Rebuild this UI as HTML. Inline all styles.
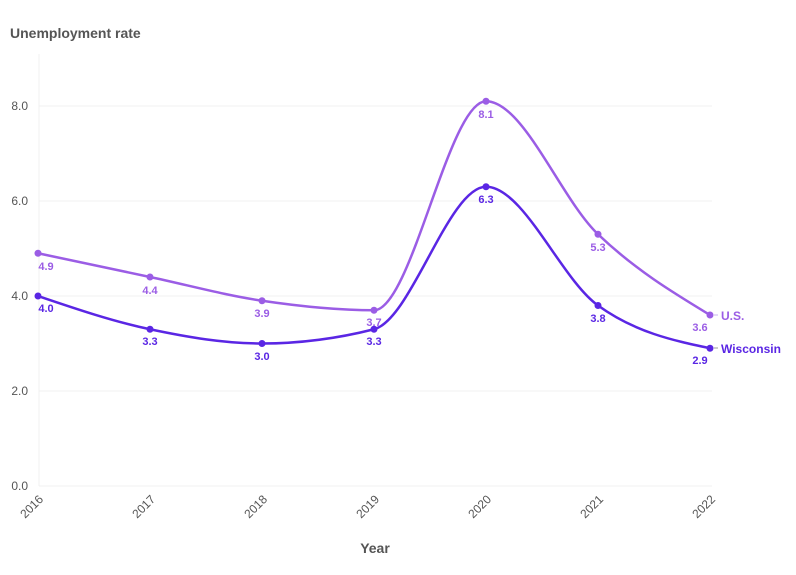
<!DOCTYPE html>
<html><head><meta charset="utf-8"><style>
html,body{margin:0;padding:0;background:#fff;}
svg{display:block;font-family:"Liberation Sans",sans-serif;}
</style></head><body>
<svg width="796" height="575" viewBox="0 0 796 575" xmlns="http://www.w3.org/2000/svg">
<text x="10" y="38" font-size="14" font-weight="bold" fill="#555">Unemployment rate</text>
<g stroke="#f0f0f0" stroke-width="1">
<line x1="39" y1="106" x2="712" y2="106"/>
<line x1="39" y1="201" x2="712" y2="201"/>
<line x1="39" y1="296" x2="712" y2="296"/>
<line x1="39" y1="391" x2="712" y2="391"/>
<line x1="39" y1="486" x2="712" y2="486"/>
<line x1="39" y1="54" x2="39" y2="486"/>
</g>
<g font-size="12" fill="#555" text-anchor="end">
<text x="28" y="110">8.0</text>
<text x="28" y="205">6.0</text>
<text x="28" y="300">4.0</text>
<text x="28" y="395">2.0</text>
<text x="28" y="490">0.0</text>
</g>
<g font-size="12" fill="#555" text-anchor="end">
<text transform="translate(44,500) rotate(-45)">2016</text>
<text transform="translate(156,500) rotate(-45)">2017</text>
<text transform="translate(268,500) rotate(-45)">2018</text>
<text transform="translate(380,500) rotate(-45)">2019</text>
<text transform="translate(492,500) rotate(-45)">2020</text>
<text transform="translate(604,500) rotate(-45)">2021</text>
<text transform="translate(716,500) rotate(-45)">2022</text>
</g>
<text x="375" y="553" font-size="14" font-weight="bold" fill="#555" text-anchor="middle">Year</text>
<path fill="none" stroke="#9b5de5" stroke-width="2.5" d="M38,253.25 C75.33,261.17 112.67,269.08 150,277 C187.33,284.91 224.67,295.23 262,300.75 C299.33,306.27 336.67,310.25 374,310.25 C411.33,310.25 448.67,101.25 486,101.25 C523.33,101.25 560.67,198.64 598,234.25 C635.33,269.86 672.67,292.41 710,315"/>
<path fill="none" stroke="#5a26e4" stroke-width="2.5" d="M38,296 C75.33,308.65 112.67,321.34 150,329.25 C187.33,337.16 224.67,343.5 262,343.5 C299.33,343.5 336.67,338.73 374,329.25 C411.33,319.77 448.67,186.75 486,186.75 C523.33,186.75 560.67,278.59 598,305.5 C635.33,332.41 672.67,340.34 710,348.25"/>
<g fill="#9b5de5">
<circle cx="38" cy="253.25" r="3.5"/><circle cx="150" cy="277" r="3.5"/><circle cx="262" cy="300.75" r="3.5"/><circle cx="374" cy="310.25" r="3.5"/><circle cx="486" cy="101.25" r="3.5"/><circle cx="598" cy="234.25" r="3.5"/><circle cx="710" cy="315" r="3.5"/>
</g>
<g fill="#5a26e4">
<circle cx="38" cy="296" r="3.5"/><circle cx="150" cy="329.25" r="3.5"/><circle cx="262" cy="343.5" r="3.5"/><circle cx="374" cy="329.25" r="3.5"/><circle cx="486" cy="186.75" r="3.5"/><circle cx="598" cy="305.5" r="3.5"/><circle cx="710" cy="348.25" r="3.5"/>
</g>
<g font-size="11" font-weight="bold" fill="#9b5de5" text-anchor="middle">
<text x="46" y="270">4.9</text><text x="150" y="294">4.4</text><text x="262" y="317">3.9</text><text x="374" y="326">3.7</text><text x="486" y="118">8.1</text><text x="598" y="251">5.3</text><text x="700" y="331">3.6</text>
</g>
<g font-size="11" font-weight="bold" fill="#5a26e4" text-anchor="middle">
<text x="46" y="312">4.0</text><text x="150" y="345">3.3</text><text x="262" y="360">3.0</text><text x="374" y="345">3.3</text><text x="486" y="203">6.3</text><text x="598" y="322">3.8</text><text x="700" y="364">2.9</text>
</g>
<line x1="714" y1="315" x2="718" y2="315" stroke="#c9b0f0" stroke-width="1"/>
<line x1="714" y1="348" x2="718" y2="348" stroke="#999" stroke-width="1"/>
<text x="721" y="320" font-size="12" font-weight="bold" fill="#9b5de5">U.S.</text>
<text x="721" y="353" font-size="12" font-weight="bold" fill="#5a26e4">Wisconsin</text>
</svg>
</body></html>
